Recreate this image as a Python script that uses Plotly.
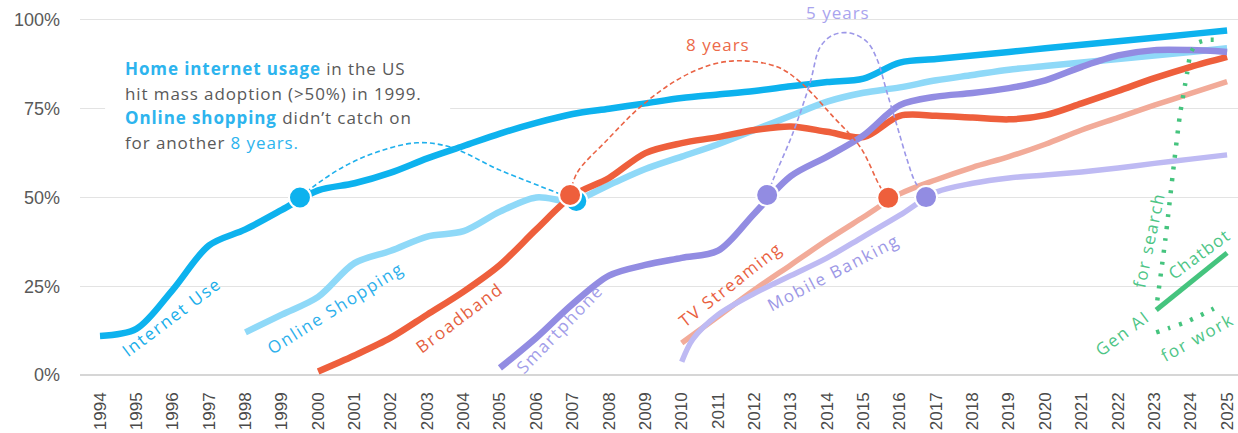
import plotly.graph_objects as go

# ---------------- data ----------------
internet_years = list(range(1994, 2026))
internet_vals = [11, 13, 24, 36.5, 41, 46.5, 52, 54, 57, 61, 64.5, 68, 71, 73.5, 75, 76.5,
                 78, 79, 80, 81.3, 82.5, 83.5, 88, 89, 90, 91, 92, 93, 94, 95, 96, 97]

shopping_years = list(range(1998, 2026))
shopping_vals = [12, 17, 22, 31.5, 35, 39, 40.5, 46, 50, 49, 53.5, 58, 61.5, 65, 69, 73,
                 77, 79.5, 81, 83, 84.5, 86, 87, 88, 89, 90, 91, 92]

broadband_years = list(range(2000, 2026))
broadband_vals = [1, 5.5, 10.5, 17, 23.5, 31, 41, 50.5, 55.5, 62.5, 65.3, 67, 69, 70, 68.5,
                  67, 73, 73, 72.5, 72, 73.2, 76.5, 80, 83.6, 86.8, 89.6]

smartphone_years = list(range(2005, 2026))
smartphone_vals = [2, 10.5, 20, 28, 31, 33, 35, 45.5, 56, 61.5, 67.5, 76, 78.4, 79.4, 80.8,
                   83, 86.8, 90, 91.5, 91.5, 91]

tv_years = list(range(2010, 2026))
tv_vals = [9, 16.5, 24, 31, 38, 44.5, 51, 55, 58.5, 61.5, 65, 69, 72.5, 76, 79.3, 82.6]

banking_years = [2010, 2010.3, 2011, 2012, 2013, 2014, 2015, 2016, 2017, 2018, 2019, 2020,
                 2021, 2022, 2023, 2024, 2025]
banking_vals = [3.7, 10, 17, 23, 28, 33, 39, 45, 51.5, 54, 55.5, 56.3, 57.2, 58.3, 59.6, 60.8, 62]

chatbot_years = [2023.05, 2025]
chatbot_vals = [18.3, 34.4]

work_years = [2023.05, 2023.4, 2023.8, 2024.1, 2024.45, 2024.8]
work_vals = [12, 13.2, 14.6, 16, 17.7, 19.7]

search_years = [2023.08, 2023.3, 2023.5, 2023.7, 2023.9, 2024.0, 2024.18, 2024.48, 2024.78]
search_vals = [21, 38, 56, 73, 85, 90.7, 93.5, 94.4, 94.4]

# adoption (50%) markers
mass_marker_years = [1999.5, 2007.1, 2006.93, 2012.35, 2015.68, 2016.72]
mass_marker_vals = [50, 49.0, 50.7, 50.7, 49.9, 50.1]

# "years until catch on" arcs
arc_blue_x = [1999.5, 1999.86, 2000.69, 2001.62, 2002.72, 2003.63, 2005.0, 2006.57, 2007.1]
arc_blue_y = [50, 53, 58.6, 62.8, 65.4, 64.2, 57.7, 51.3, 49.0]
arc_red_x = [2006.93, 2007.12, 2007.95, 2008.86, 2009.87, 2010.78, 2011.61, 2012.62, 2013.26,
             2014.17, 2014.91, 2015.46, 2015.68]
arc_red_y = [50.7, 56.9, 66.2, 75.5, 83.1, 87.3, 88.5, 86.8, 82.5, 72.7, 64.2, 53, 49.9]
arc_purple_x = [2012.35, 2012.51, 2013.06, 2013.53, 2013.81, 2014.17, 2014.63, 2015.1, 2015.38,
                2015.65, 2015.93, 2016.2, 2016.42, 2016.72]
arc_purple_y = [50.7, 54.9, 68.2, 82.3, 92.4, 95.8, 96.3, 93.8, 88.7, 79.4, 69.9, 60.6, 54.4, 50.1]

y_tick_vals = [0, 25, 50, 75, 100]
y_tick_text = ["0%", "25%", "50%", "75%", "100%"]
x_tick_vals = list(range(1994, 2026))

# ---------------- styles ----------------
C_NET = "#0DB2EE"
C_SHOP = "#8FD9F8"
C_BB = "#EE5F3C"
C_SMART = "#928CE2"
C_TV = "#F2AB99"
C_BANK = "#BEBAF3"
C_GEN = "#45C47E"
GREY = "#595959"
FONT = "Open Sans"

fig = go.Figure()


def line(x, y, color, width, dash=None, smoothing=0.9):
    fig.add_trace(go.Scatter(
        x=x, y=y, mode="lines",
        line=dict(color=color, width=width, shape="spline", smoothing=smoothing,
                  dash=dash),
        hoverinfo="skip", showlegend=False))


line(internet_years, internet_vals, C_NET, 6.5)
line(shopping_years, shopping_vals, C_SHOP, 6.5)
line(broadband_years, broadband_vals, C_BB, 6.5)
line(smartphone_years, smartphone_vals, C_SMART, 6.5)
line(tv_years, tv_vals, C_TV, 5.5)
line(banking_years, banking_vals, C_BANK, 5.5)
line(chatbot_years, chatbot_vals, C_GEN, 5, smoothing=0)
line(work_years, work_vals, C_GEN, 4.5, dash="3px,9px", smoothing=0.6)
line(search_years, search_vals, C_GEN, 4.5, dash="3px,9px", smoothing=0.6)

line(arc_blue_x, arc_blue_y, "#1FB0EC", 1.6, dash="5px,3px", smoothing=1)
line(arc_red_x, arc_red_y, "#EA6446", 1.6, dash="5px,3px", smoothing=1)
line(arc_purple_x, arc_purple_y, "#9C97E8", 1.6, dash="5px,3px", smoothing=1)

marker_colors = [C_NET, C_NET, C_BB, C_SMART, C_BB, C_SMART]
fig.add_trace(go.Scatter(
    x=mass_marker_years, y=mass_marker_vals, mode="markers",
    marker=dict(size=22, color=marker_colors, line=dict(color="white", width=2)),
    hoverinfo="skip", showlegend=False))


def spaced(t, px):
    return f"<span style='letter-spacing:{px}px'>{t}</span>"


# ---------------- line labels ----------------
labels = [
    ("Internet Use", 1995.97, 16.5, -37, "#1AAEEA", 1.7),
    ("Online Shopping", 2000.49, 18.9, -32, "#2DB0EC", 1.7),
    ("Broadband", 2003.88, 16.3, -37, "#E5603F", 1.7),
    ("Smartphone", 2006.65, 13.0, -46, "#A29DE9", 1.7),
    ("TV Streaming", 2011.33, 25.4, -38, "#E9613F", 1.7),
    ("Mobile Banking", 2014.15, 29.0, -27.5, "#9D98E6", 1.7),
    ("Gen AI", 2022.1, 11.8, -37, "#4DC586", 1.7),
    ("Chatbot", 2024.24, 34.3, -36, "#4DC586", 1.2),
    ("for work", 2024.16, 10.7, -29, "#4DC586", 1.7),
    ("for search", 2022.83, 38.0, -78, "#4DC586", 1.7),
]
for txt, x, y, ang, col, sp in labels:
    fig.add_annotation(x=x, y=y, text=spaced(txt, sp), textangle=ang, showarrow=False,
                       xanchor="center", yanchor="middle",
                       font=dict(family=FONT, size=17, color=col))

fig.add_annotation(x=2011.0, y=93.2, text=spaced("8 years", 1), showarrow=False,
                   font=dict(family=FONT, size=17, color="#EC6A4A"))
fig.add_annotation(x=2014.3, y=102, text=spaced("5 years", 1), showarrow=False,
                   font=dict(family=FONT, size=17, color="#A9A4EE"))

# ---------------- text block ----------------
BLUE_T = "#2DB4EE"
block = [
    f"<b><span style='color:{BLUE_T}'>Home internet usage</span></b> in the US",
    "hit mass adoption (&gt;50%) in 1999.",
    f"<b><span style='color:{BLUE_T}'>Online shopping</span></b> didn’t catch on",
    f"for another <span style='color:{BLUE_T}'>8 years.</span>",
]
block_y = [86.2, 79.2, 72.4, 65.4]
for t, yy in zip(block, block_y):
    fig.add_annotation(x=1994.63, y=yy, text=spaced(t, 0.9), showarrow=False, xanchor="left",
                       yanchor="middle", font=dict(family=FONT, size=17, color=GREY))

fig.add_shape(type="rect", x0=1994.14, x1=2003.63, y0=62, y1=90, layer="between",
              fillcolor="white", line=dict(width=0))

fig.update_layout(
    width=1238, height=433,
    margin=dict(l=80, r=0, t=10, b=53),
    paper_bgcolor="white", plot_bgcolor="white",
    showlegend=False,
    xaxis=dict(range=[1993.45, 2025.3], tickvals=x_tick_vals, tickangle=-90,
               showgrid=False, zeroline=False, showline=False, ticks="",
               ticklabelstandoff=8,
               tickfont=dict(family="Liberation Sans, Arial", size=17, color="#4a4a4a")),
    yaxis=dict(range=[-1.41, 102.8], tickvals=y_tick_vals, ticktext=y_tick_text,
               showgrid=True, gridcolor="#e3e3e3", gridwidth=1,
               zeroline=True, zerolinecolor="#d6d6d6", zerolinewidth=1.5,
               showline=False, ticks="", ticklabelstandoff=19,
               tickfont=dict(family="Liberation Sans, Arial", size=18, color=GREY)),
)

fig.write_html("out.html")
